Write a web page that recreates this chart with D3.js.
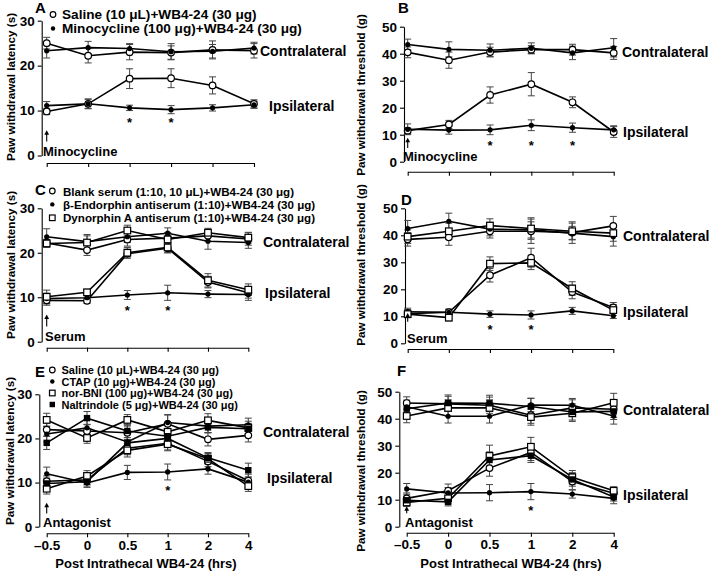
<!DOCTYPE html>
<html><head><meta charset="utf-8">
<script src="https://cdn.jsdelivr.net/npm/d3@7"></script>
<style>
body{margin:0;background:#fff;}
text{font-family:"Liberation Sans",Arial,Helvetica,sans-serif;font-weight:bold;fill:#000;}
</style></head>
<body><svg id="chart" width="709" height="571"></svg>
<script>
// ---------- DATA ----------
const timeLabels = ["\u20130.5","0","0.5","1","2","4"];
const latencyTicks = [0,10,20,30];
const thresholdTicks = [0,10,20,30,40,50];

// Panel A (latency, s)
const aSalContra = [25.0,22.2,23.0,22.9,23.5,23.3], aSalContraErr=[1.3,1.6,1.7,1.5,2.0,1.6];
const aMinoContra= [23.3,24.0,23.8,23.1,23.2,23.9], aMinoContraErr=[1.6,1.4,1.1,1.8,1.5,1.3];
const aSalIpsi   = [9.8,11.5,17.1,17.2,15.6,11.5],  aSalIpsiErr=[0.7,1.0,2.2,2.1,1.9,0.9];
const aMinoIpsi  = [11.1,11.5,10.6,10.2,10.6,11.3], aMinoIpsiErr=[0.9,1.1,0.6,0.9,0.7,0.8];
// Panel B (threshold, g)
const bSalContra = [40.5,37.6,40.6,41.5,41.5,40.3], bSalContraErr=[2.0,3.0,1.8,1.5,2.0,2.4];
const bMinoContra= [43.4,41.6,41.3,42.0,40.3,42.2], bMinoContraErr=[2.0,2.8,2.3,2.0,2.5,3.4];
const bSalIpsi   = [11.5,13.8,24.7,28.7,22.0,11.0], bSalIpsiErr=[1.0,1.5,3.0,4.3,2.0,2.0];
const bMinoIpsi  = [12.0,11.7,11.8,13.5,12.6,11.8], bMinoIpsiErr=[2.0,1.5,1.8,2.0,1.7,1.5];
// Panel C (latency)
const cBlankContra=[22.2,20.6,23.0,23.3,23.8,23.1], cBlankContraErr=[0.8,1.2,1.5,1.2,1.2,1.4];
const cBetaContra =[23.6,22.5,23.6,24.4,22.6,22.3], cBetaContraErr=[1.8,1.6,1.3,1.2,1.8,1.3];
const cDynContra  =[22.1,22.3,25.0,23.0,24.5,23.4], cDynContraErr=[0.9,1.5,1.2,1.5,1.0,1.2];
const cBlankIpsi  =[9.3,9.2,19.8,21.0,13.4,11.0],   cBlankIpsiErr=[1.1,0.6,1.0,1.0,1.3,1.2];
const cBetaIpsi   =[9.7,9.9,10.5,11.0,10.7,10.6],   cBetaIpsiErr=[1.2,0.8,1.0,1.7,0.8,1.3];
const cDynIpsi    =[10.1,11.1,20.0,21.2,13.8,11.7], cDynIpsiErr=[1.5,0.7,1.2,1.2,1.5,1.3];
// Panel D (threshold)
const dBlankContra=[38.5,39.3,41.5,41.5,41.0,43.5], dBlankContraErr=[2.5,3.0,2.5,4.5,4.0,3.5];
const dBetaContra =[42.5,45.2,42.3,42.0,40.8,39.5], dBetaContraErr=[3.0,3.0,2.5,3.0,2.5,3.5];
const dDynContra  =[39.5,41.5,43.6,42.5,41.5,40.8], dDynContraErr=[2.5,3.0,2.5,4.0,3.0,3.0];
const dBlankIpsi  =[11.0,11.5,25.2,31.7,19.0,13.3], dBlankIpsiErr=[1.5,1.0,2.5,3.5,2.5,1.8];
const dBetaIpsi   =[11.7,11.5,10.8,10.5,12.0,10.2], dBetaIpsiErr=[1.3,1.2,1.2,1.5,1.3,1.0];
const dDynIpsi    =[10.8,9.5,29.5,29.8,20.3,12.3],  dDynIpsiErr=[1.2,1.2,2.5,2.5,2.5,2.0];
// Panel E (latency)
const eSalContra =[22.0,21.7,21.3,23.3,19.8,20.7], eSalContraErr=[1.5,1.5,1.5,2.0,1.5,1.5];
const eCtapContra=[21.0,22.4,19.2,23.6,22.8,23.1], eCtapContraErr=[1.8,1.8,2.0,1.8,1.5,1.5];
const eNorContra =[24.2,20.1,24.2,21.5,24.1,22.4], eNorContraErr=[1.5,1.2,1.2,1.5,1.5,1.5];
const eNtiContra =[19.0,24.6,21.7,20.5,22.5,22.2], eNtiContraErr=[1.5,1.5,1.5,1.5,1.2,1.2];
const eSalIpsi   =[10.3,10.6,17.8,18.9,14.8,10.4], eSalIpsiErr=[1.2,1.0,1.5,1.5,1.2,1.5];
const eCtapIpsi  =[12.0,9.9,12.3,12.4,13.1,10.1],  eCtapIpsiErr=[1.5,1.0,1.6,1.8,1.2,1.2];
const eNorIpsi   =[8.6,11.5,17.3,18.7,15.4,9.2],   eNorIpsiErr=[1.2,1.2,1.5,1.5,1.2,1.2];
const eNtiIpsi   =[9.8,10.2,19.0,20.0,15.6,12.8],  eNtiIpsiErr=[1.2,1.0,2.5,1.5,1.2,1.6];
// Panel F (threshold)
const fSalContra =[45.8,45.5,45.0,41.3,44.0,43.5], fSalContraErr=[2.3,2.8,3.0,3.0,3.0,3.0];
const fCtapContra=[44.4,40.9,40.9,45.1,45.0,41.0], fCtapContraErr=[2.5,2.5,2.5,2.5,2.5,3.0];
const fNorContra =[41.0,44.0,44.0,40.6,42.0,45.9], fNorContraErr=[2.5,3.0,3.0,3.0,3.0,3.5];
const fNtiContra =[43.7,45.8,45.7,44.5,42.5,42.7], fNtiContraErr=[2.5,3.0,3.0,3.0,3.0,3.0];
const fSalIpsi   =[10.5,13.3,21.7,27.5,16.7,12.4], fSalIpsiErr=[2.0,2.5,3.0,3.0,3.0,1.5];
const fCtapIpsi  =[14.0,12.5,12.6,13.0,12.1,10.5], fCtapIpsiErr=[2.0,2.0,3.0,3.0,1.5,2.0];
const fNorIpsi   =[9.0,10.5,26.2,29.6,18.3,13.3],  fNorIpsiErr=[1.5,2.0,4.0,3.5,2.5,1.5];
const fNtiIpsi   =[9.8,9.2,24.7,26.3,17.5,11.0],   fNtiIpsiErr=[1.5,1.5,3.0,2.5,2.5,1.5];

const legendA = ["Saline (10 \u03bcL)+WB4-24 (30 \u03bcg)","Minocycline (100 \u03bcg)+WB4-24 (30 \u03bcg)"];
const legendC = ["Blank serum (1:10, 10 \u03bcL)+WB4-24 (30 \u03bcg)","\u03b2-Endorphin antiserum (1:10)+WB4-24 (30 \u03bcg)","Dynorphin A antiserum (1:10)+WB4-24 (30 \u03bcg)"];
const legendE = ["Saline (10 \u03bcL)+WB4-24 (30 \u03bcg)","CTAP (10 \u03bcg)+WB4-24 (30 \u03bcg)","nor-BNI (100 \u03bcg)+WB4-24 (30 \u03bcg)","Naltrindole (5 \u03bcg)+WB4-24 (30 \u03bcg)"];
const starIdx = {A:[2,3], B:[2,3,4], C:[2,3], D:[2,3], E:[3], F:[3]};

// ---------- LAYOUT ----------
const panels = [
 {id:"A", ymax:30, ticks:latencyTicks, yb:155.5, yt:20.7, yax:41.7, xay:163, x0:46.7, x1:254, showX:false,
  ytitle:"Paw withdrawal latency (s)", yty:87, ytx:10, letter:[35,13],
  legend:{items:legendA, types:["open","filled"], x:53, y0:14.5, dy:14, fs:13.6, tx:62},
  contra:[260,56], ipsi:[269,111], inj:"Minocycline", injPos:[43,156], arrow:[3.1,5.6], star:7.9,
  series:[["open",aSalContra,aSalContraErr],["filled",aMinoContra,aMinoContraErr],["open",aSalIpsi,aSalIpsiErr],["filled",aMinoIpsi,aMinoIpsiErr]]},
 {id:"B", ymax:50, ticks:thresholdTicks, yb:161.7, yt:26.7, yax:404, xay:171.7, x0:407.7, x1:613.7, showX:false,
  ytitle:"Paw withdrawal threshold (g)", yty:95, ytx:360, letter:[398,13],
  contra:[622,57], ipsi:[623,137], inj:"Minocycline", injPos:[403,161], arrow:[5.1,8.9], star:7.0,
  series:[["open",bSalContra,bSalContraErr],["filled",bMinoContra,bMinoContraErr],["open",bSalIpsi,bSalIpsiErr],["filled",bMinoIpsi,bMinoIpsiErr]]},
 {id:"C", ymax:30, ticks:latencyTicks, yb:341.7, yt:208.3, yax:41.7, xay:347.7, x0:46.7, x1:248.3, showX:false,
  ytitle:"Paw withdrawal latency (s)", yty:265, ytx:10, letter:[35,195],
  legend:{items:legendC, types:["open","filled","square"], x:52.3, y0:191, dy:13.4, fs:11.6, tx:63},
  contra:[263,247], ipsi:[265,298], inj:"Serum", injPos:[45,341], arrow:[3.4,6.1], star:7.6,
  series:[["open",cBlankContra,cBlankContraErr],["filled",cBetaContra,cBetaContraErr],["square",cDynContra,cDynContraErr],
          ["open",cBlankIpsi,cBlankIpsiErr],["filled",cBetaIpsi,cBetaIpsiErr],["square",cDynIpsi,cDynIpsiErr]]},
 {id:"D", ymax:50, ticks:thresholdTicks, yb:343.3, yt:208.3, yax:405, xay:349, x0:407.7, x1:613.3, showX:false,
  ytitle:"Paw withdrawal threshold (g)", yty:265, ytx:360, letter:[401,205],
  contra:[623,241], ipsi:[623,317], inj:"Serum", injPos:[407,343], arrow:[8.0,11.2], star:6.1,
  series:[["open",dBlankContra,dBlankContraErr],["filled",dBetaContra,dBetaContraErr],["square",dDynContra,dDynContraErr],
          ["open",dBlankIpsi,dBlankIpsiErr],["filled",dBetaIpsi,dBetaIpsiErr],["square",dDynIpsi,dDynIpsiErr]]},
 {id:"E", ymax:30, ticks:latencyTicks, yb:526.7, yt:394.3, yax:39.3, xay:533.3, x0:46.7, x1:248.3, showX:true,
  ytitle:"Paw withdrawal latency (s)", yty:451, ytx:9, letter:[35,377],
  legend:{items:legendE, types:["open","filled","square","fsquare"], x:52.3, y0:370, dy:11.5, fs:11, tx:61.5},
  contra:[263,437], ipsi:[267,483], inj:"Antagonist", injPos:[43,527], arrow:[3.0,5.4], star:8.8, xtitle:[146,568],
  series:[["open",eSalContra,eSalContraErr],["filled",eCtapContra,eCtapContraErr],["square",eNorContra,eNorContraErr],["fsquare",eNtiContra,eNtiContraErr],
          ["open",eSalIpsi,eSalIpsiErr],["filled",eCtapIpsi,eCtapIpsiErr],["square",eNorIpsi,eNorIpsiErr],["fsquare",eNtiIpsi,eNtiIpsiErr]]},
 {id:"F", ymax:50, ticks:thresholdTicks, yb:526.7, yt:391.7, yax:399.3, xay:532.7, x0:406.7, x1:613.7, showX:true,
  ytitle:"Paw withdrawal threshold (g)", yty:471, ytx:360, letter:[397,376],
  contra:[623,415], ipsi:[623,500], inj:"Antagonist", injPos:[405,527], arrow:[5.0,7.6], star:6.8, xtitle:[511,568],
  series:[["open",fSalContra,fSalContraErr],["filled",fCtapContra,fCtapContraErr],["square",fNorContra,fNorContraErr],["fsquare",fNtiContra,fNtiContraErr],
          ["open",fSalIpsi,fSalIpsiErr],["filled",fCtapIpsi,fCtapIpsiErr],["square",fNorIpsi,fNorIpsiErr],["fsquare",fNtiIpsi,fNtiIpsiErr]]}
];

const svg = d3.select("#chart");

function drawMarker(g, type, cx, cy, s){
  s = s || 1;
  if(type==="open") g.append("circle").attr("cx",cx).attr("cy",cy).attr("r",3.3*s).attr("fill","#fff").attr("stroke","#000").attr("stroke-width",1.2);
  else if(type==="filled") g.append("circle").attr("cx",cx).attr("cy",cy).attr("r",2.6*s).attr("fill","#000");
  else if(type==="square") g.append("rect").attr("x",cx-3.3*s).attr("y",cy-3.3*s).attr("width",6.6*s).attr("height",6.6*s).attr("fill","#fff").attr("stroke","#000").attr("stroke-width",1.2);
  else g.append("rect").attr("x",cx-3.2*s).attr("y",cy-3.2*s).attr("width",6.4*s).attr("height",6.4*s).attr("fill","#000");
}

panels.forEach(p=>{
  const g = svg.append("g");
  const x = d3.scalePoint().domain(timeLabels).range([p.x0,p.x1]);
  const y = d3.scaleLinear().domain([0,p.ymax]).range([p.yb,p.yt]);

  // axes
  const ya = g.append("g").attr("transform",`translate(${p.yax},0)`)
    .call(d3.axisLeft(y).tickValues(p.ticks).tickSize(4).tickSizeOuter(0).tickPadding(3));
  ya.selectAll("text").style("font-size","13.5px").style("font-family","Liberation Sans, Arial, sans-serif").style("font-weight","bold");
  const xa = g.append("g").attr("transform",`translate(0,${p.xay})`)
    .call(d3.axisBottom(x).tickSize(4).tickSizeOuter(0).tickPadding(3).tickFormat(d=>p.showX?d:""));
  xa.selectAll("text").style("font-size","13.5px").style("font-family","Liberation Sans, Arial, sans-serif").style("font-weight","bold");
  g.selectAll(".domain, .tick line").attr("stroke","#000").attr("stroke-width",1.1);

  // series: error bars + lines
  const line = d3.line().x((d,i)=>x(timeLabels[i])).y(d=>y(d));
  p.series.forEach(([type,vals,errs])=>{
    const sg = g.append("g");
    vals.forEach((v,i)=>{
      const cx = x(timeLabels[i]);
      sg.append("line").attr("x1",cx).attr("x2",cx).attr("y1",y(v-errs[i])).attr("y2",y(v+errs[i])).attr("stroke","#444").attr("stroke-width",1);
      [v-errs[i], v+errs[i]].forEach(e=>sg.append("line").attr("x1",cx-3.5).attr("x2",cx+3.5).attr("y1",y(e)).attr("y2",y(e)).attr("stroke","#444").attr("stroke-width",1));
    });
    sg.append("path").datum(vals).attr("d",line).attr("fill","none").attr("stroke","#000").attr("stroke-width",1.6);
  });
  // markers on top
  p.series.forEach(([type,vals])=>{
    vals.forEach((v,i)=>drawMarker(g,type,x(timeLabels[i]),y(v)));
  });

  // significance stars
  starIdx[p.id].forEach(i=>{
    g.append("text").attr("x",x(timeLabels[i])).attr("y",y(p.star)+7).attr("text-anchor","middle").style("font-size","13px").text("*");
  });

  // injection arrow
  const ax = x(timeLabels[0]), ayTop = y(p.arrow[1]), ayBot = y(p.arrow[0]);
  g.append("line").attr("x1",ax).attr("x2",ax).attr("y1",ayBot).attr("y2",ayTop+3).attr("stroke","#000").attr("stroke-width",1.1);
  g.append("path").attr("d",`M${ax-2.4},${ayTop+4.5} L${ax},${ayTop} L${ax+2.4},${ayTop+4.5} Z`).attr("fill","#000");

  // labels
  g.append("text").attr("x",p.injPos[0]).attr("y",p.injPos[1]).style("font-size","13px").text(p.inj);
  g.append("text").attr("x",p.contra[0]).attr("y",p.contra[1]).style("font-size","14px").text("Contralateral");
  g.append("text").attr("x",p.ipsi[0]).attr("y",p.ipsi[1]).style("font-size","14px").text("Ipsilateral");
  g.append("text").attr("x",p.letter[0]).attr("y",p.letter[1]).style("font-size","15px").text(p.id);
  g.append("text").attr("transform",`translate(${p.ytx},${p.yty}) rotate(-90)`).attr("text-anchor","middle")
    .attr("dominant-baseline","central").style("font-size","11.7px").text(p.ytitle);
  if(p.xtitle) g.append("text").attr("x",p.xtitle[0]).attr("y",p.xtitle[1]).attr("text-anchor","middle").style("font-size","13px").text("Post Intrathecal WB4-24 (hrs)");

  // legend
  if(p.legend){
    const L = p.legend;
    L.items.forEach((t,i)=>{
      const cy = L.y0 + i*L.dy;
      drawMarker(g, L.types[i], L.x, cy, 0.85);
      g.append("text").attr("x",L.tx).attr("y",cy).attr("dominant-baseline","central").style("font-size",L.fs+"px").text(t);
    });
  }
});
</script></body></html>
